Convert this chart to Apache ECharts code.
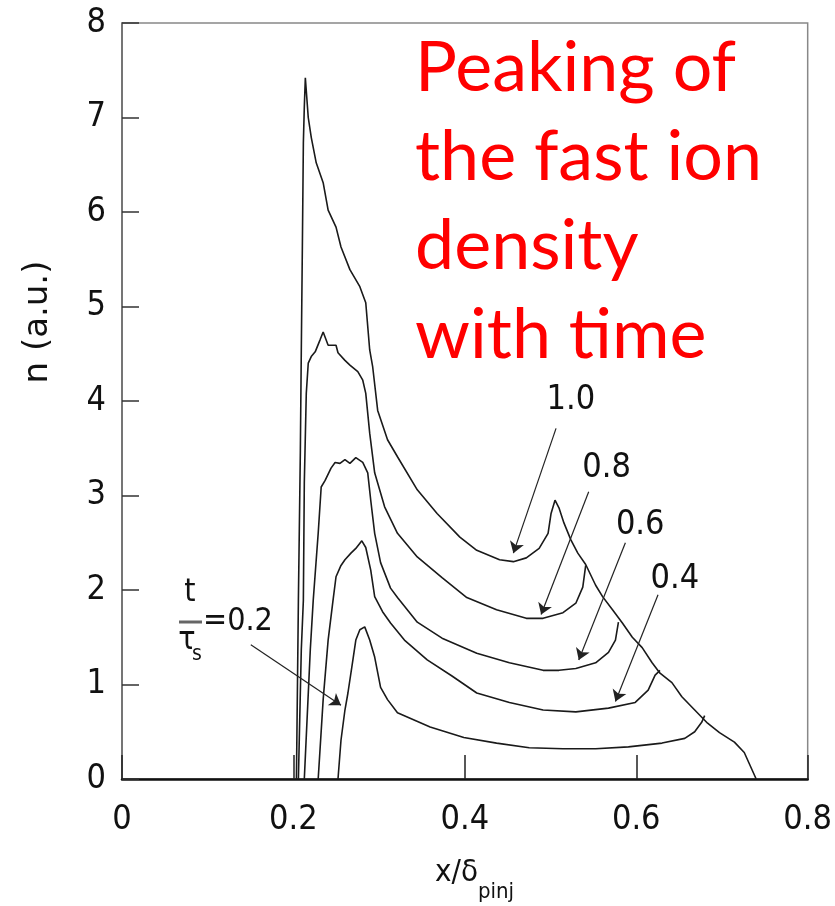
<!DOCTYPE html>
<html>
<head>
<meta charset="utf-8">
<title>fast ion density</title>
<script src="https://cdn.jsdelivr.net/npm/echarts@6/dist/echarts.min.js"></script>
<style>
html, body { margin: 0; padding: 0; background: #fff; }
#chart { width: 835px; height: 906px; }
</style>
</head>
<body>
<div id="chart"></div>
<script>
// [x/δpinj, n], one array per t/τs
var curve10 = [[0.2035,0],[0.2058,1.89],[0.2081,3.48],[0.2092,4.54],[0.2104,5.60],[0.2116,6.73],[0.2127,7.11],[0.2139,7.42],[0.2173,7.00],[0.2208,6.79],[0.2266,6.52],[0.2347,6.31],[0.2405,6.02],[0.2497,5.84],[0.2555,5.63],[0.2659,5.39],[0.2775,5.21],[0.2844,5.04],[0.2890,4.54],[0.2925,4.36],[0.2983,3.90],[0.3098,3.59],[0.3214,3.41],[0.3445,3.06],[0.3676,2.81],[0.3942,2.56],[0.4139,2.42],[0.4405,2.32],[0.4566,2.30],[0.4717,2.34],[0.4867,2.44],[0.4971,2.60],[0.5006,2.81],[0.5052,2.95],[0.5098,2.87],[0.5156,2.71],[0.5237,2.53],[0.5318,2.39],[0.5410,2.27],[0.5526,2.05],[0.5607,1.93],[0.5723,1.79],[0.5838,1.65],[0.5954,1.50],[0.6069,1.39],[0.6185,1.23],[0.6277,1.12],[0.6416,1.02],[0.6532,0.87],[0.6682,0.73],[0.6832,0.59],[0.6971,0.49],[0.7145,0.39],[0.7260,0.28],[0.7399,0]];
var curve08 = [[0.2058,0],[0.2092,1.37],[0.2116,1.89],[0.2127,3.13],[0.2150,4.08],[0.2173,4.40],[0.2208,4.47],[0.2254,4.52],[0.2312,4.65],[0.2347,4.73],[0.2405,4.59],[0.2497,4.59],[0.2520,4.51],[0.2601,4.43],[0.2659,4.38],[0.2751,4.31],[0.2809,4.22],[0.2844,4.08],[0.2890,3.66],[0.2948,3.24],[0.3064,2.88],[0.3214,2.60],[0.3445,2.35],[0.3734,2.13],[0.4023,1.92],[0.4370,1.79],[0.4717,1.70],[0.4913,1.70],[0.5145,1.76],[0.5295,1.86],[0.5376,2.03],[0.5410,2.26]];
var curve06 = [[0.2127,0],[0.2197,1.37],[0.2231,1.89],[0.2289,2.60],[0.2324,3.09],[0.2370,3.16],[0.2439,3.29],[0.2486,3.35],[0.2543,3.34],[0.2601,3.38],[0.2659,3.34],[0.2728,3.40],[0.2809,3.35],[0.2867,3.24],[0.2902,2.95],[0.2948,2.60],[0.3017,2.29],[0.3133,2.02],[0.3214,1.92],[0.3445,1.66],[0.3734,1.49],[0.4139,1.33],[0.4520,1.23],[0.4913,1.15],[0.5098,1.15],[0.5295,1.17],[0.5526,1.23],[0.5676,1.34],[0.5757,1.47],[0.5792,1.66]];
var curve04 = [[0.2289,0],[0.2347,0.84],[0.2405,1.47],[0.2462,1.89],[0.2497,2.14],[0.2555,2.26],[0.2601,2.32],[0.2671,2.39],[0.2728,2.44],[0.2798,2.52],[0.2844,2.45],[0.2902,2.21],[0.2948,1.93],[0.3040,1.77],[0.3133,1.65],[0.3295,1.47],[0.3561,1.26],[0.3850,1.09],[0.4139,0.91],[0.4520,0.81],[0.4913,0.73],[0.5295,0.71],[0.5676,0.75],[0.5988,0.81],[0.6139,0.94],[0.6220,1.10],[0.6277,1.15]];
var curve02 = [[0.2520,0],[0.2555,0.41],[0.2601,0.73],[0.2636,0.91],[0.2694,1.26],[0.2728,1.47],[0.2775,1.58],[0.2832,1.61],[0.2890,1.47],[0.2948,1.29],[0.3017,0.97],[0.3098,0.84],[0.3214,0.70],[0.3595,0.55],[0.3988,0.44],[0.4370,0.38],[0.4751,0.33],[0.5145,0.32],[0.5526,0.32],[0.5908,0.34],[0.6301,0.38],[0.6566,0.43],[0.6682,0.50],[0.6763,0.60],[0.6798,0.67]];

// arrows: [from, to] in data units
var arrowLines = [
  [[0.5064, 3.71], [0.4566, 2.39]],
  [[0.5445, 3.04], [0.4890, 1.74]],
  [[0.5873, 2.50], [0.5329, 1.26]],
  [[0.6254, 1.95], [0.5757, 0.82]],
  [[0.1503, 1.42], [0.2555, 0.78]]
];
var curveLabels = [
  [0.5237, 4.01, '1.0'],
  [0.5653, 3.29, '0.8'],
  [0.6046, 2.69, '0.6'],
  [0.6451, 2.11, '0.4']
];

var narrow = "'Liberation Sans Narrow', 'DejaVu Sans Condensed', 'Liberation Sans', sans-serif";

var chart = echarts.init(document.getElementById('chart'));

function curve(data) {
  return {
    type: 'line',
    data: data,
    symbol: 'none',
    smooth: false,
    lineStyle: { color: '#1a1a1a', width: 1.6 },
    silent: true
  };
}

var option = {
  animation: false,
  backgroundColor: '#fff',
  grid: {
    left: 122, top: 23, width: 692, height: 756,
    show: true, borderColor: '#888', borderWidth: 1.5
  },
  xAxis: {
    type: 'value', min: 0, max: 0.8, interval: 0.2,
    axisLine: { onZero: false, lineStyle: { color: '#111', width: 2.5 } },
    axisTick: { inside: true, length: 24, lineStyle: { color: '#222', width: 1.5 } },
    axisLabel: { margin: 24, color: '#111', fontSize: 34, fontFamily: narrow },
    splitLine: { show: false }
  },
  yAxis: {
    type: 'value', min: 0, max: 8, interval: 1,
    axisLine: { lineStyle: { color: '#666', width: 1.5 } },
    axisTick: { inside: true, length: 17, lineStyle: { color: '#333', width: 1.5 } },
    axisLabel: { margin: 16, color: '#111', fontSize: 34, fontFamily: narrow },
    splitLine: { show: false }
  },
  series: [
    curve(curve10), curve(curve08), curve(curve06), curve(curve04), curve(curve02),
    {
      type: 'line', data: [], silent: true,
      markLine: {
        silent: true,
        symbol: ['none', 'arrow'],
        symbolSize: 11,
        label: { show: false },
        lineStyle: { color: '#222', width: 1.2, type: 'solid' },
        data: arrowLines.map(function (a) {
          return [{ coord: a[0] }, { coord: a[1] }];
        })
      }
    },
    {
      type: 'scatter', symbolSize: 0, silent: true,
      data: curveLabels,
      itemStyle: { opacity: 1 },
      label: {
        show: true, position: 'inside', opacity: 1,
        formatter: function (p) { return p.data[2]; },
        color: '#111', fontSize: 34, fontFamily: narrow
      }
    }
  ],
  graphic: [
    {
      type: 'text', left: 415, top: 24,
      style: {
        text: 'Peaking of\nthe fast ion\ndensity\nwith time',
        fill: '#ff0000', font: '70px Lato', lineHeight: 89
      }
    },
    {
      type: 'text', x: 38, y: 322, rotation: Math.PI / 2,
      style: {
        text: 'n (a.u.)', fill: '#111', fontSize: 34, fontFamily: 'DejaVu Sans',
        align: 'center', verticalAlign: 'middle'
      }
    },
    {
      type: 'text', x: 478, y: 888,
      style: { text: 'x/δ', fill: '#111', fontSize: 31, fontFamily: narrow, align: 'right', verticalAlign: 'bottom' }
    },
    {
      type: 'text', x: 478, y: 903,
      style: { text: 'pinj', fill: '#111', fontSize: 22, fontFamily: narrow, align: 'left', verticalAlign: 'bottom' }
    },
    // t / τs = 0.2
    {
      type: 'text', x: 190, y: 609,
      style: { text: 't', fill: '#111', fontSize: 32, fontFamily: narrow, align: 'center', verticalAlign: 'bottom' }
    },
    {
      type: 'line', shape: { x1: 179, y1: 622, x2: 202, y2: 622 },
      style: { stroke: '#666', lineWidth: 3 }
    },
    {
      type: 'text', x: 187, y: 657,
      style: { text: 'τ', fill: '#111', fontSize: 32, fontFamily: narrow, align: 'center', verticalAlign: 'bottom' }
    },
    {
      type: 'text', x: 192, y: 665,
      style: { text: 's', fill: '#111', fontSize: 21, fontFamily: narrow, align: 'left', verticalAlign: 'bottom' }
    },
    {
      type: 'text', x: 203, y: 622,
      style: { text: '=0.2', fill: '#111', fontSize: 32, fontFamily: narrow, align: 'left', verticalAlign: 'middle' }
    }
  ]
};

chart.setOption(option);
</script>
</body>
</html>
